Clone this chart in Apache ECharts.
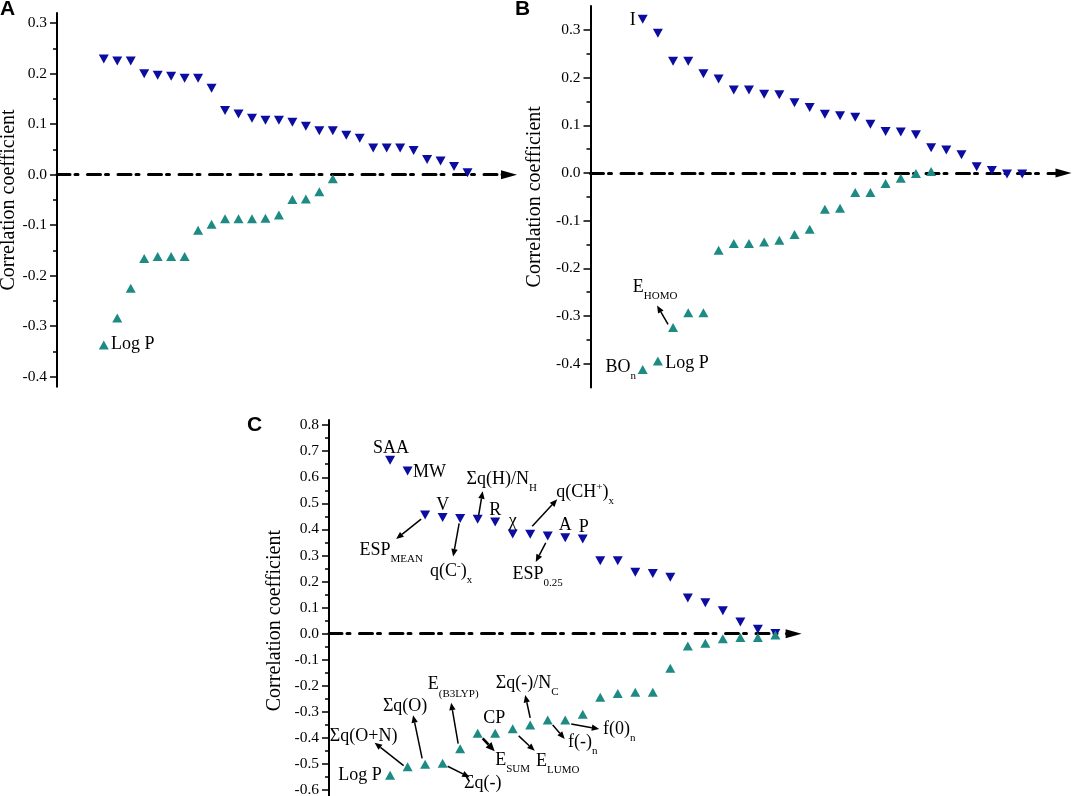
<!DOCTYPE html>
<html>
<head>
<meta charset="UTF-8">
<title>correlation coefficients</title>
<script src="https://cdn.jsdelivr.net/npm/echarts@6/dist/echarts.min.js"></script>
<style>
  html, body { margin: 0; padding: 0; background: #fff; }
  #container { width: 1072px; height: 796px; }
</style>
</head>
<body>
<div id="container"></div>
<script>
// panel A
var posA = [0.229, 0.225, 0.225, 0.200, 0.197, 0.195, 0.191, 0.191, 0.171, 0.127, 0.120, 0.112, 0.108, 0.108,
            0.104, 0.096, 0.087, 0.087, 0.078, 0.072, 0.053, 0.053, 0.053, 0.048, 0.030, 0.027, 0.016, 0.004];
var negA = [-0.337, -0.284, -0.225, -0.166, -0.162, -0.162, -0.162, -0.110, -0.098, -0.087, -0.087, -0.087,
            -0.086, -0.080, -0.049, -0.048, -0.034, -0.008];
var ticksA = [-0.4, -0.3, -0.2, -0.1, 0.0, 0.1, 0.2, 0.3];

// panel B
var posB = [0.322, 0.293, 0.234, 0.234, 0.208, 0.197, 0.174, 0.174, 0.165, 0.164, 0.147, 0.137, 0.123,
            0.120, 0.117, 0.102, 0.087, 0.086, 0.080, 0.053, 0.048, 0.038, 0.013, 0.005, -0.002, -0.002];
var negB = [-0.412, -0.394, -0.324, -0.293, -0.293, -0.162, -0.148, -0.148, -0.145, -0.141, -0.129, -0.118,
            -0.076, -0.074, -0.041, -0.041, -0.022, -0.011, -0.001, 0.003];
var ticksB = [-0.4, -0.3, -0.2, -0.1, 0.0, 0.1, 0.2, 0.3];

// panel C
var posC = [0.665, 0.624, 0.455, 0.446, 0.442, 0.439, 0.428, 0.382, 0.381, 0.375, 0.368, 0.363, 0.280,
            0.280, 0.236, 0.231, 0.216, 0.137, 0.119, 0.088, 0.045, 0.017, 0.001];
var negC = [-0.543, -0.510, -0.501, -0.497, -0.441, -0.382, -0.382, -0.365, -0.350, -0.331, -0.331, -0.309,
            -0.244, -0.229, -0.225, -0.225, -0.133, -0.047, -0.037, -0.019, -0.015, -0.015, -0.005];
var ticksC = [-0.6, -0.5, -0.4, -0.3, -0.2, -0.1, 0.0, 0.1, 0.2, 0.3, 0.4, 0.5, 0.6, 0.7, 0.8];

// point labels: [series, point, text, dx, dy]
var notes = [
  [1, 0, '{m|Log P}', 29, -1],
  [2, 0, '{m|I}', -10, 1],
  [3, 0, '{m|BO}{s|n}', -22, -2],
  [3, 1, '{m|Log P}', 29, 2],
  [3, 2, '{m|E}{s|HOMO}', -18, -40],
  [4, 0, '{m|SAA}', 1, -12],
  [4, 1, '{m|MW}', 22, 1],
  [4, 2, '{m|ESP}{s|MEAN}', -34, 35],
  [4, 3, '{m|V}', 0, -12],
  [4, 4, '{m|q(C}{p|-}{m|)}{s|x}', -9, 53],
  [4, 5, '{m|Σq(H)/N}{s|H}', 24, -40],
  [4, 6, '{m|R}', 0, -12],
  [4, 7, '{m|χ}', 0, -13],
  [4, 8, '{m|q(CH}{p|+}{m|)}{s|x}', 55, -42],
  [4, 9, '{m|ESP}{s|0.25}', -10, 38],
  [4, 10, '{m|A}', 0, -12],
  [4, 11, '{m|P}', 1, -12],
  [5, 0, '{m|Log P}', -30, 0],
  [5, 1, '{m|Σq(O+N)}', -44, -30],
  [5, 2, '{m|Σq(O)}', -20, -58],
  [5, 3, '{m|Σq(-)}', 40, 20],
  [5, 4, '{m|E}{s|(B3LYP)}', -7, -64],
  [5, 5, '{m|E}{s|SUM}', 35, 27],
  [5, 6, '{m|CP}', -1, -15],
  [5, 7, '{m|E}{s|LUMO}', 45, 32],
  [5, 8, '{m|Σq(-)/N}{s|C}', -3, -42],
  [5, 9, '{m|f(-)}{s|n}', 35, 22],
  [5, 10, '{m|f(0)}{s|n}', 54, 9]
];

// arrows: [series, point, fromDx, fromDy, toDx, toDy, width]
var arrows = [
  [3, 2, -5, -3, -16, -22, 1.5],
  [4, 2, -4, 4, -29, 24, 1.5],
  [4, 4, -1, 5, -7, 38, 1.5],
  [4, 5, 1, -4, 5, -28, 1.5],
  [4, 8, 2, -8, 27, -35, 1.5],
  [4, 9, -2, 7, -12, 26, 1.5],
  [5, 1, -4, -1, -33, -24, 1.5],
  [5, 2, -3, -6, -12, -49, 1.5],
  [5, 3, 5, 3, 27, 14, 1.5],
  [5, 4, -2, -5, -9, -46, 1.5],
  [5, 5, 5, 5, 17, 18, 2.6],
  [5, 7, 6, 7, 22, 22, 1.5],
  [5, 8, 0, -7, -5, -30, 1.5],
  [5, 9, 5, 5, 17, 19, 1.5],
  [5, 10, 6, 4, 34, 9, 1.5]
];

var serif = 'Liberation Serif';
var blue = '#0c0ca0';
var teal = '#1d8b83';

var rich = {
  m: { fontFamily: serif, fontSize: 18, lineHeight: 22, color: '#000' },
  s: { fontFamily: serif, fontSize: 11, height: 12, lineHeight: 22, padding: [14, 0, 0, 0], verticalAlign: 'top', color: '#000' },
  p: { fontFamily: serif, fontSize: 11, height: 12, lineHeight: 22, padding: [0, 0, 0, 0], verticalAlign: 'top', color: '#000' }
};

var panels = [
  { grid: { left: 57, top: 13.1, width: 452, height: 373.7 }, yMin: -0.42, yMax: 0.32, xMin: -2.474, xMax: 31.08, ticks: ticksA, gap: 38, pos: posA, neg: negA },
  { grid: { left: 590.5, top: 6, width: 473, height: 381.6 }, yMin: -0.45, yMax: 0.35, xMin: -2.439, xMax: 28.72, ticks: ticksB, gap: 46, pos: posB, neg: negB },
  { grid: { left: 329, top: 419.9, width: 464.6, height: 401.5 }, yMin: -0.72, yMax: 0.82, xMin: -2.489, xMax: 24.04, ticks: ticksC, gap: 44, pos: posC, neg: negC }
];

function buildData(values, seriesIdx) {
  return values.map(function (v, i) {
    var item = { value: [i + 1, v] };
    notes.forEach(function (n) {
      if (n[0] === seriesIdx && n[1] === i) {
        item.label = { show: true, formatter: n[2], position: 'inside', offset: [n[3], n[4]] };
      }
    });
    return item;
  });
}

var grids = [], xAxes = [], yAxes = [], series = [];
panels.forEach(function (p, g) {
  var minor = p.ticks.slice(1).map(function (t, i) { return (t + p.ticks[i]) / 2; });
  grids.push(Object.assign({ outerBoundsMode: 'none', containLabel: false }, p.grid));
  xAxes.push({
    type: 'value', gridIndex: g, min: p.xMin, max: p.xMax,
    axisLine: {
      show: true, onZero: true, onZeroAxisIndex: 2 * g,
      symbol: ['none', 'triangle'], symbolSize: [9, 16],
      lineStyle: { color: '#000', width: 3, type: [13, 5, 3, 9.5] }
    },
    axisTick: { show: false }, axisLabel: { show: false }, splitLine: { show: false }
  });
  yAxes.push({
    type: 'value', gridIndex: g, min: p.yMin, max: p.yMax, position: 'left',
    name: 'Correlation coefficient', nameLocation: 'middle', nameGap: p.gap, nameMoveOverlap: false,
    nameTextStyle: { fontFamily: serif, fontSize: 20, color: '#000' },
    axisLine: { show: true, onZero: false, lineStyle: { color: '#000', width: 2 } },
    axisTick: { show: true, length: 7, customValues: p.ticks, lineStyle: { color: '#000', width: 1.5 } },
    axisLabel: {
      show: true, customValues: p.ticks, margin: 10,
      fontFamily: serif, fontSize: 15.5, color: '#000',
      formatter: function (v) { return v.toFixed(1); }
    },
    splitLine: { show: false }
  });
  // minor ticks half way between the labelled ones
  yAxes.push({
    type: 'value', gridIndex: g, min: p.yMin, max: p.yMax, position: 'left', offset: 0,
    axisLine: { show: false, onZero: false },
    axisTick: { show: true, length: 4, customValues: minor, lineStyle: { color: '#000', width: 1.5 } },
    axisLabel: { show: false }, splitLine: { show: false }
  });
  series.push({
    type: 'scatter', xAxisIndex: g, yAxisIndex: 2 * g,
    symbol: 'triangle', symbolRotate: 180, symbolSize: [10, 9],
    itemStyle: { color: blue, opacity: 1 },
    label: { show: false, rich: rich },
    data: buildData(p.pos, 2 * g)
  });
  series.push({
    type: 'scatter', xAxisIndex: g, yAxisIndex: 2 * g,
    symbol: 'triangle', symbolSize: [10, 9],
    itemStyle: { color: teal, opacity: 1 },
    label: { show: false, rich: rich },
    data: buildData(p.neg, 2 * g + 1)
  });
});

var chart = echarts.init(document.getElementById('container'), null, { renderer: 'canvas' });
chart.setOption({
  animation: false,
  backgroundColor: '#fff',
  grid: grids,
  xAxis: xAxes,
  yAxis: yAxes,
  series: series
});

// arrows are anchored to the plotted points
var srcArrays = [posA, negA, posB, negB, posC, negC];
var graphics = [];
arrows.forEach(function (a) {
  var pt = chart.convertToPixel({ seriesIndex: a[0] }, [a[1] + 1, srcArrays[a[0]][a[1]]]);
  var x1 = pt[0] + a[2], y1 = pt[1] + a[3], x2 = pt[0] + a[4], y2 = pt[1] + a[5];
  var ang = Math.atan2(y2 - y1, x2 - x1);
  var len = a[6] > 2 ? 9 : 7.5, hw = a[6] > 2 ? 4 : 3.2;
  var bx = x2 - len * Math.cos(ang), by = y2 - len * Math.sin(ang);
  graphics.push({
    type: 'line', silent: true,
    shape: { x1: x1, y1: y1, x2: bx, y2: by },
    style: { stroke: '#000', lineWidth: a[6] }
  });
  graphics.push({
    type: 'polygon', silent: true,
    shape: { points: [[x2, y2],
      [bx + hw * Math.sin(ang), by - hw * Math.cos(ang)],
      [bx - hw * Math.sin(ang), by + hw * Math.cos(ang)]] },
    style: { fill: '#000' }
  });
});

[['A', 0, -1], ['B', 515, -1], ['C', 247, 415]].forEach(function (t) {
  graphics.push({
    type: 'text', x: t[1], y: t[2], silent: true,
    style: { text: t[0], font: 'bold 21px "Liberation Sans"', fill: '#000', textVerticalAlign: 'top' }
  });
});

chart.setOption({ graphic: graphics });
</script>
</body>
</html>
